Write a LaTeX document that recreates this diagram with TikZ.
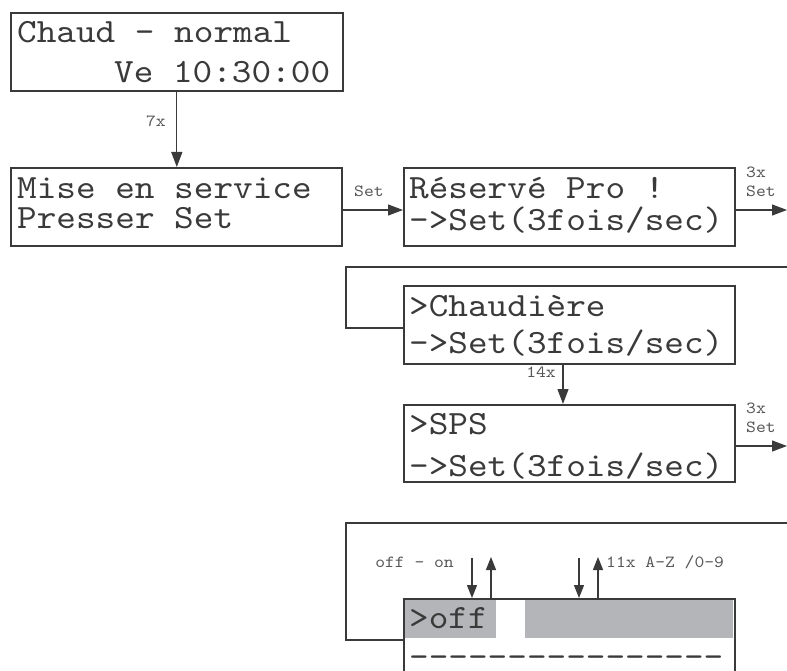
\documentclass[tikz,border=0pt]{standalone}
\usepackage{fontspec}
\usetikzlibrary{arrows.meta}
\newfontfamily\lcdfam[FakeStretch=1.1]{lmmono10-regular.otf}
\definecolor{lcdgray}{HTML}{B3B5B8}
\definecolor{ink}{HTML}{3A3A3A}

\tikzset{
    lcdbox/.style={draw=ink, line width=1.6pt, anchor=north west, inner sep=0pt,
        minimum width=331pt, minimum height=78pt},
    lcdtext/.style={anchor=base west, inner sep=0pt, text=ink,
        font=\lcdfam\fontsize{34}{34}\selectfont},
    keylabel/.style={inner sep=0pt, text=ink!85,
        font=\lcdfam\fontsize{17}{17}\selectfont},
    wire/.style={draw=ink, line width=1.2pt},
    flow/.style={wire, -{Triangle[length=15pt,width=11pt]}},
    keyflow/.style={wire, -{Triangle[length=13pt,width=10pt]}}
}

\begin{document}
\begin{tikzpicture}[x=1pt, y=-1pt]
    \path[use as bounding box, clip] (0,0) rectangle (787,671);

    % displays
    \node[lcdbox, minimum width=332pt] (chaud) at (10,12) {};
    \node[lcdbox] (service) at (10,167) {};
    \node[lcdbox] (reserve) at (403,167) {};
    \node[lcdbox] (chaudiere) at (403,285) {};
    \node[lcdbox, minimum height=77pt] (sps) at (403,404) {};

    \fill[lcdgray] (404,599) rectangle (496,638);
    \fill[lcdgray] (525,599) rectangle (733,638);
    \node[lcdbox, minimum height=110pt] (offbox) at (403,598) {};

    % display texts
    \node[lcdtext] (chaudA) at (17,43) {Chaud - normal};
    \node[lcdtext] (chaudB) at (114,83) {Ve 10:30:00};
    \node[lcdtext] (serviceA) at (17,199) {Mise en service};
    \node[lcdtext] (serviceB) at (17,229) {Presser Set};
    \node[lcdtext] (reserveA) at (409,199) {Réservé Pro !};
    \node[lcdtext] (reserveB) at (409,231) {->Set(3fois/sec)};
    \node[lcdtext] (chaudiereA) at (409,316) {>Chaudière};
    \node[lcdtext] (chaudiereB) at (409,353) {->Set(3fois/sec)};
    \node[lcdtext] (spsA) at (409,434) {>SPS};
    \node[lcdtext] (spsB) at (409,476) {->Set(3fois/sec)};
    \node[lcdtext] (offA) at (409,628) {>off};
    \node[lcdtext] (offB) at (409,667) {----------------};

    % free ends at the right edge
    \coordinate (outA) at (787,210);
    \coordinate (outB) at (787,446);

    % connectors
    \draw[flow] (chaud.south) -- (chaud.south |- service.north);
    \node[keylabel, anchor=base east] (sevenx) at (166,127) {7x};
    \draw[flow] (service.east |- outA) -- (reserve.west |- outA);
    \node[keylabel, anchor=base west] (setA) at (354,197) {Set};

    \draw[flow] (reserve.east |- outA) -- (outA);
    \node[keylabel, anchor=base west] (threexA) at (746,178) {3x};
    \node[keylabel, anchor=base west] (setB) at (746,197) {Set};

    \draw[wire] (787,267) -| (346,328) -- (chaudiere.west |- 0,328);

    \draw[flow] (chaudiere.south -| 563,0) -- (sps.north -| 563,0);
    \node[keylabel, anchor=base east] (fourteenx) at (556,377) {14x};

    \draw[flow] (sps.east |- outB) -- (outB);
    \node[keylabel, anchor=base west] (threexB) at (746,413) {3x};
    \node[keylabel, anchor=base west] (setC) at (746,432) {Set};

    \draw[wire] (787,523) -| (346,640) -- (offbox.west |- 0,640);

    % up/down keys
    \foreach \dn/\up in {472/491, 579/598} {
        \draw[keyflow] (\dn,558) -- (offbox.north -| \dn,0);
        \draw[keyflow] (offbox.north -| \up,0) -- (\up,557);
    }
    \node[keylabel, anchor=base east] (offon) at (454,567) {off - on};
    \node[keylabel, anchor=base west] (chars) at (606,567) {11x A-Z /0-9};
\end{tikzpicture}
\end{document}
